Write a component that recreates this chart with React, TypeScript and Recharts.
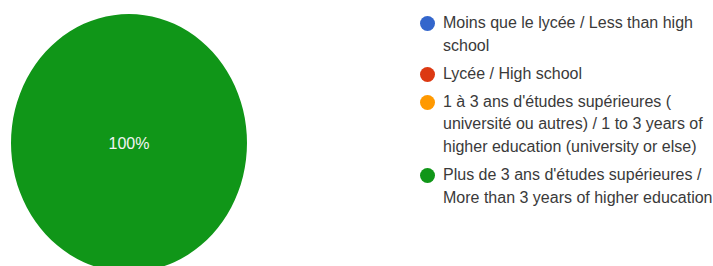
import React from 'react';
import { Pie, PieChart, Sector } from 'recharts';

const categories = [
    "Moins que le lycée / Less than high school",
    "Lycée / High school",
    "1 à 3 ans d'études supérieures ( université ou autres) / 1 to 3 years of higher education (university or else)",
    "Plus de 3 ans d'études supérieures / More than 3 years of higher education",
];
const shares = [0, 0, 0, 100];
const colors = ['#3366cc', '#dc3912', '#ff9900', '#109618'];

const data = categories.map((name, i) => ({ name, value: shares[i], fill: colors[i] }));

const FONT = 'Liberation Sans, Arial, sans-serif';
const Y_STRETCH = 1.093;

const EllipseSlice = (props: any) => {
    const { cx, cy } = props;
    return (
        <g transform={`translate(${cx},${cy}) scale(1,${Y_STRETCH}) translate(${-cx},${-cy})`}>
            <Sector {...props} stroke="none" />
        </g>
    );
};

const renderLabel = (props: any) => {
    const { cx, cy, midAngle, outerRadius, percent } = props;
    if (!percent) return null;
    let x = cx;
    let y = cy;
    if (percent < 1) {
        const r = outerRadius * 0.6;
        x = cx + r * Math.cos((-midAngle * Math.PI) / 180);
        y = cy + r * Math.sin((-midAngle * Math.PI) / 180) * Y_STRETCH;
    }
    return (
        <text x={x} y={y} fill="#f4f4f4" fontSize={16} fontFamily={FONT} textAnchor="middle" dominantBaseline="central">
            {`${Math.round(percent * 100)}%`}
        </text>
    );
};

const ChartLegend = () => (
    <div style={{ position: 'absolute', left: 420, top: 12, fontFamily: FONT, fontSize: 16, lineHeight: '22.7px', color: '#3a3a3a' }}>
        {data.map((d) => (
            <div key={d.name} style={{ display: 'flex', alignItems: 'flex-start', marginBottom: 5.3 }}>
                <span style={{ width: 15, height: 15, borderRadius: '50%', background: d.fill, marginTop: 4, marginRight: 8, flexShrink: 0 }} />
                <span style={{ width: 275 }}>{d.name}</span>
            </div>
        ))}
    </div>
);

export default function App() {
    return (
        <div style={{ position: 'fixed', left: 0, top: 0, width: 713, height: 266, background: '#ffffff', overflow: 'hidden' }}>
            <PieChart width={713} height={266} margin={{ top: 0, right: 0, bottom: 0, left: 0 }}>
                <Pie
                    data={data}
                    dataKey="value"
                    nameKey="name"
                    cx={129}
                    cy={143}
                    outerRadius={118}
                    startAngle={90}
                    endAngle={-270}
                    stroke="none"
                    label={renderLabel}
                    labelLine={false}
                    shape={EllipseSlice}
                    isAnimationActive={false}
                />
            </PieChart>
            <ChartLegend />
        </div>
    );
}
